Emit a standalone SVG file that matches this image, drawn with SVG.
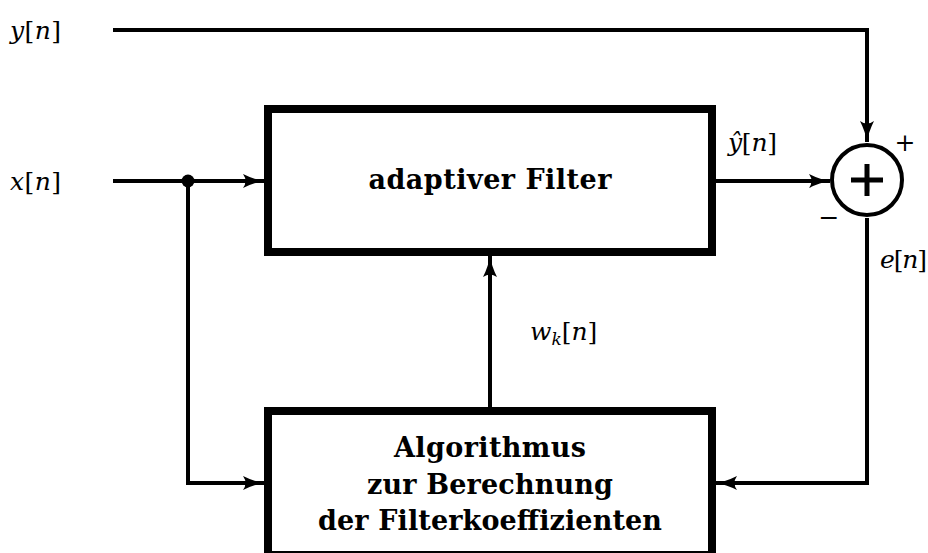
<svg xmlns="http://www.w3.org/2000/svg" width="928" height="553" viewBox="0 0 928 553">
<defs>
<style>
.box{fill:#fff;stroke:#000;stroke-width:8}
.wire{fill:none;stroke:#000;stroke-width:4}
.lbl{font-family:'DejaVu Serif',serif;font-weight:bold;font-size:27px;text-anchor:middle;fill:#000}
.math{font-family:'DejaVu Serif',serif;font-size:25px;fill:#000}
.it{font-style:italic}
</style>
<marker id="arr" markerUnits="userSpaceOnUse" markerWidth="24" markerHeight="18" viewBox="-22 -9 24 18" refX="0" refY="0" orient="auto">
<path d="M-21,-7 Q-10,-1.5 0,0 Q-10,1.5 -21,7 Q-16,0 -21,-7 Z" fill="#000"/>
</marker>
</defs>
<rect width="928" height="553" fill="#fff"/>
<g id="connectors">
<path class="wire" d="M113,30 H867 V142" marker-end="url(#arr)"/>
<path class="wire" d="M113,181 H264" marker-end="url(#arr)"/>
<path class="wire" d="M188,181 V483 H264" marker-end="url(#arr)"/>
<path class="wire" d="M716,181 H830" marker-end="url(#arr)"/>
<path class="wire" d="M867,218 V483 H716" marker-end="url(#arr)"/>
<path class="wire" d="M490,407 V256" marker-end="url(#arr)"/>
<circle cx="188" cy="181" r="6.5" fill="#000"/>
<text class="math" x="10" y="39" textLength="51"><tspan class="it">y</tspan>[<tspan class="it">n</tspan>]</text>
<text class="math" x="10" y="190" textLength="51"><tspan class="it">x</tspan>[<tspan class="it">n</tspan>]</text>
<text class="math" x="728" y="151" textLength="49"><tspan class="it">ŷ</tspan>[<tspan class="it">n</tspan>]</text>
<text class="math" x="880" y="268" textLength="47"><tspan class="it">e</tspan>[<tspan class="it">n</tspan>]</text>
<text class="math" x="530" y="340"><tspan class="it">w</tspan><tspan class="it" font-size="17" dy="5">k</tspan><tspan dy="-5">[</tspan><tspan class="it">n</tspan>]</text>
<text class="math" x="905" y="151" text-anchor="middle" font-size="23">+</text>
<text class="math" x="829" y="226" text-anchor="middle" font-size="23">−</text>
</g>
<g id="filter">
<rect class="box" x="268" y="109" width="444" height="143"/>
<text class="lbl" x="490" y="189" textLength="243">adaptiver Filter</text>
</g>
<g id="algorithm">
<rect class="box" x="268" y="411" width="444" height="144"/>
<text class="lbl" x="490" y="457" textLength="192">Algorithmus</text>
<text class="lbl" x="490" y="494" textLength="246">zur Berechnung</text>
<text class="lbl" x="490" y="530" textLength="344">der Filterkoeffizienten</text>
</g>
<g id="sum">
<circle cx="867" cy="180" r="35" fill="#fff" stroke="#000" stroke-width="4"/>
<path d="M851,180 H883 M867,164 V196" stroke="#000" stroke-width="5" fill="none"/>
</g>
</svg>
